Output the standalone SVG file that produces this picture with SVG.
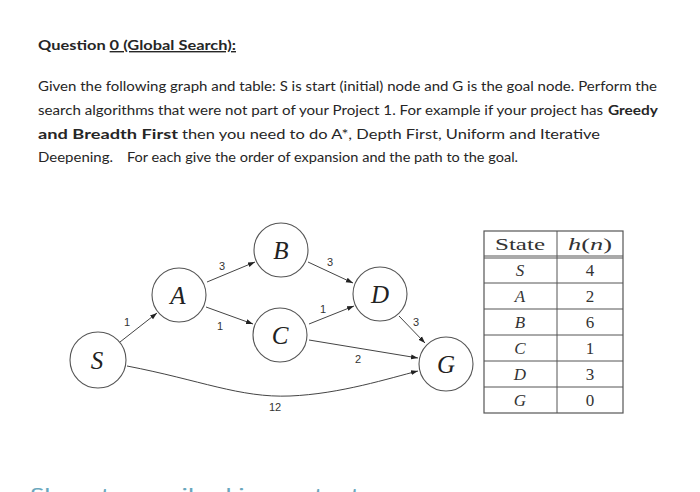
<svg xmlns="http://www.w3.org/2000/svg" width="700" height="492" viewBox="0 0 700 492">
<style>
.t{font-family:Lato,"Open Sans","Liberation Sans",sans-serif;fill:#262626;font-size:12.5px}
.b{font-weight:bold;font-size:14px}
.n{font-family:"Liberation Serif",serif;font-style:italic;font-size:25px;fill:#222;text-anchor:middle}
.w{font-family:"Liberation Sans",sans-serif;font-size:11px;fill:#333;text-anchor:middle}
.c{fill:#fff;stroke:#555;stroke-width:1.1}
.e{fill:none;stroke:#444;stroke-width:1}
.tb{font-family:"Liberation Serif",serif;font-size:17px;fill:#333;text-anchor:middle}
.tl{stroke:#555;stroke-width:1}
</style>
<defs>
<marker id="ah" viewBox="0 0 10 10" refX="10" refY="5" markerWidth="7" markerHeight="7" orient="auto" markerUnits="userSpaceOnUse">
<path d="M0,1.5 L10,5 L0,8.5 z" fill="#222"/>
</marker>
</defs>
<rect width="700" height="492" fill="#fff"/>
<g id="title">
<text class="t b" x="38" y="50" font-size="15" textLength="198" lengthAdjust="spacingAndGlyphs">Question <tspan text-decoration="underline">0 (Global Search):</tspan></text>
</g>
<g id="body">
<text class="t" x="38" y="91" textLength="619" lengthAdjust="spacingAndGlyphs">Given the following graph and table: S is start (initial) node and G is the goal node. Perform the</text>
<text class="t" x="38" y="115" textLength="565" lengthAdjust="spacingAndGlyphs">search algorithms that  were not part of your Project 1. For example if your project has</text>
<text class="t b" x="608" y="115" textLength="50" lengthAdjust="spacingAndGlyphs">Greedy</text>
<text class="t b" x="38" y="139" textLength="140" lengthAdjust="spacingAndGlyphs">and Breadth First</text>
<text class="t" x="182" y="139" font-size="13.5" textLength="418" lengthAdjust="spacingAndGlyphs">then you need to do  A*,  Depth First, Uniform   and Iterative</text>
<text class="t" x="38" y="162" font-size="14" textLength="75" lengthAdjust="spacingAndGlyphs">Deepening.</text>
<text class="t" x="127" y="162" font-size="12" textLength="391" lengthAdjust="spacingAndGlyphs">For each give the order of expansion and the path to the goal.</text>
</g>
<g id="connectors">
<line class="e" x1="120" y1="342" x2="157" y2="313" marker-end="url(#ah)"/>
<line class="e" x1="207" y1="282" x2="255" y2="262" marker-end="url(#ah)"/>
<line class="e" x1="206" y1="307" x2="253" y2="324" marker-end="url(#ah)"/>
<line class="e" x1="308" y1="262" x2="353" y2="283" marker-end="url(#ah)"/>
<line class="e" x1="309" y1="324" x2="354" y2="306" marker-end="url(#ah)"/>
<line class="e" x1="309" y1="340" x2="418" y2="358" marker-end="url(#ah)"/>
<line class="e" x1="399" y1="316" x2="425" y2="343" marker-end="url(#ah)"/>
<path class="e" d="M127,366 C200,380 240,398 290,396 S390,378 418,371" marker-end="url(#ah)"/>
<text class="w" x="127" y="326">1</text>
<text class="w" x="222" y="270">3</text>
<text class="w" x="220" y="330">1</text>
<text class="w" x="330" y="266">3</text>
<text class="w" x="323" y="313">1</text>
<text class="w" x="358" y="363">2</text>
<text class="w" x="416" y="326">3</text>
<text class="w" x="275" y="411">12</text>
</g>
<g id="S"><circle class="c" cx="98" cy="360" r="28"/><text class="n" x="97" y="369">S</text></g>
<g id="A"><circle class="c" cx="179" cy="295" r="27"/><text class="n" x="178" y="304">A</text></g>
<g id="B"><circle class="c" cx="281" cy="250" r="27"/><text class="n" x="281" y="259">B</text></g>
<g id="C"><circle class="c" cx="280" cy="335" r="27"/><text class="n" x="280" y="344">C</text></g>
<g id="D"><circle class="c" cx="380" cy="294" r="27"/><text class="n" x="380" y="303">D</text></g>
<g id="G"><circle class="c" cx="446" cy="364" r="27"/><text class="n" x="446" y="373">G</text></g>
<g id="table">
<rect x="484" y="231" width="139" height="182" fill="#fff" stroke="#555" stroke-width="1.2"/>
<line class="tl" x1="557" y1="231" x2="557" y2="413"/>
<line class="tl" x1="484" y1="256" x2="623" y2="256"/>
<line class="tl" x1="484" y1="258" x2="623" y2="258"/>
<line class="tl" x1="484" y1="283" x2="623" y2="283"/>
<line class="tl" x1="484" y1="309" x2="623" y2="309"/>
<line class="tl" x1="484" y1="335" x2="623" y2="335"/>
<line class="tl" x1="484" y1="361" x2="623" y2="361"/>
<line class="tl" x1="484" y1="387" x2="623" y2="387"/>
<text class="tb" x="520" y="250" textLength="50" lengthAdjust="spacingAndGlyphs">State</text>
<text class="tb" x="590" y="250" textLength="44" lengthAdjust="spacingAndGlyphs"><tspan font-style="italic">h</tspan>(<tspan font-style="italic">n</tspan>)</text>
<text class="tb" x="520" y="276" font-style="italic">S</text><text class="tb" x="590" y="276">4</text>
<text class="tb" x="520" y="302" font-style="italic">A</text><text class="tb" x="590" y="302">2</text>
<text class="tb" x="520" y="328" font-style="italic">B</text><text class="tb" x="590" y="328">6</text>
<text class="tb" x="520" y="354" font-style="italic">C</text><text class="tb" x="590" y="354">1</text>
<text class="tb" x="520" y="380" font-style="italic">D</text><text class="tb" x="590" y="380">3</text>
<text class="tb" x="520" y="406" font-style="italic">G</text><text class="tb" x="590" y="406">0</text>
</g>
<g id="footer">
<text x="30" y="501" font-family="Lato,'Open Sans','Liberation Sans',sans-serif" font-size="18" fill="#6aa7bd" textLength="330" lengthAdjust="spacingAndGlyphs">Show transcribed image text</text>
</g>
</svg>
